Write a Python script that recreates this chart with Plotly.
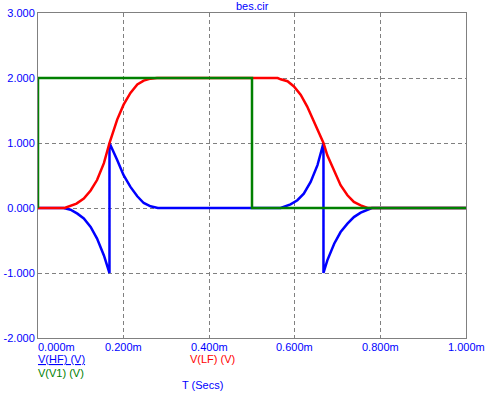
import plotly.graph_objects as go

# ---- data (time in ms, values in V) ----
t_hf = [0, 0.06, 0.076, 0.092, 0.107, 0.123, 0.138, 0.154, 0.167, 0.167, 0.185, 0.2, 0.216,
        0.232, 0.247, 0.263, 0.28, 0.567, 0.59, 0.606, 0.621, 0.637, 0.653, 0.664, 0.667,
        0.667, 0.676, 0.692, 0.707, 0.723, 0.738, 0.754, 0.77, 0.78, 1.0]
v_hf = [0, 0, -0.026, -0.087, -0.16, -0.29, -0.47, -0.73, -1.0, 1.0, 0.74, 0.505, 0.325,
        0.18, 0.077, 0.026, 0, 0, 0.057, 0.12, 0.22, 0.40, 0.66, 0.94, 1.0,
        -1.0, -0.805, -0.55, -0.37, -0.24, -0.14, -0.072, -0.02, 0, 0]

t_lf = [0, 0.062, 0.09, 0.107, 0.123, 0.138, 0.154, 0.167, 0.185, 0.2, 0.216, 0.232, 0.247,
        0.263, 0.278, 0.5, 0.56, 0.567, 0.583, 0.598, 0.614, 0.629, 0.645, 0.66, 0.667,
        0.676, 0.692, 0.707, 0.723, 0.738, 0.754, 0.77, 1.0]
v_lf = [0, 0, 0.067, 0.144, 0.27, 0.43, 0.69, 1.0, 1.36, 1.59, 1.77, 1.90, 1.96,
        1.99, 2.0, 2.0, 2.0, 1.98, 1.95, 1.87, 1.74, 1.56, 1.33, 1.10, 1.0,
        0.81, 0.56, 0.35, 0.196, 0.093, 0.041, 0.0, 0.0]

t_v1 = [0, 0, 0.5, 0.5, 1.0]
v_v1 = [0, 2, 2, 0, 0]

x_ticks = [0, 0.2, 0.4, 0.6, 0.8, 1.0]
x_labels = ["0.000m", "0.200m", "0.400m", "0.600m", "0.800m", "1.000m"]
y_ticks = [-2, -1, 0, 1, 2, 3]
y_labels = ["-2.000", "-1.000", "0.000", "1.000", "2.000", "3.000"]

TXT = "#0000FF"
FONT = "Liberation Sans, Arial, sans-serif"

fig = go.Figure()
fig.add_trace(go.Scatter(x=t_hf, y=v_hf, mode="lines", line=dict(color="#0000FF", width=2.5)))
fig.add_trace(go.Scatter(x=t_lf, y=v_lf, mode="lines", line=dict(color="#FF0000", width=2.5)))
fig.add_trace(go.Scatter(x=t_v1, y=v_v1, mode="lines", line=dict(color="#008000", width=2.5)))

fig.update_layout(
    width=486, height=396,
    margin=dict(l=38, r=20, t=13, b=58, autoexpand=False),
    paper_bgcolor="white", plot_bgcolor="white",
    showlegend=False,
    font=dict(family=FONT, size=11, color=TXT),
)
fig.update_xaxes(range=[0, 1], tickvals=x_ticks, showticklabels=False, automargin=False,
                 showgrid=True, gridcolor="#808080", griddash="4px,3px", gridwidth=1,
                 showline=True, linecolor="#808080", linewidth=1, mirror=True,
                 zeroline=False, ticks="")
fig.update_yaxes(range=[-2, 3], tickvals=y_ticks, ticktext=y_labels, automargin=False,
                 showgrid=True, gridcolor="#808080", griddash="4px,3px", gridwidth=1,
                 showline=True, linecolor="#808080", linewidth=1, mirror=True,
                 zeroline=False, ticks="", tickfont=dict(color=TXT, size=11))

for xv, lab in zip(x_ticks, x_labels):
    first = xv == x_ticks[0]
    fig.add_annotation(x=xv, y=0, xref="x", yref="paper", text=lab, showarrow=False,
                       xanchor="left" if first else "center", xshift=-2 if first else 0,
                       yanchor="middle", yshift=-9,
                       font=dict(color=TXT, size=11, family=FONT))

fig.add_annotation(x=0.5, y=1, xref="paper", yref="paper", text="bes.cir", showarrow=False,
                   xanchor="center", yanchor="middle", yshift=7,
                   font=dict(color=TXT, size=11, family=FONT))
fig.add_annotation(x=0, y=0, xref="paper", yref="paper", text="V(HF) (V)", showarrow=False,
                   xanchor="left", yanchor="middle", yshift=-21, xshift=-2,
                   font=dict(color="#0000FF", size=11, family=FONT, lineposition="under"))
fig.add_annotation(x=0.355, y=0, xref="paper", yref="paper", text="V(LF) (V)", showarrow=False,
                   xanchor="left", yanchor="middle", yshift=-21, xshift=-2,
                   font=dict(color="#FF0000", size=11, family=FONT))
fig.add_annotation(x=0, y=0, xref="paper", yref="paper", text="V(V1) (V)", showarrow=False,
                   xanchor="left", yanchor="middle", yshift=-35, xshift=-2,
                   font=dict(color="#008000", size=11, family=FONT))
fig.add_annotation(x=0.336, y=0, xref="paper", yref="paper", text="T (Secs)", showarrow=False,
                   xanchor="left", yanchor="middle", yshift=-47, xshift=-2,
                   font=dict(color=TXT, size=11, family=FONT))

fig.write_html("out.html", config={"displayModeBar": False},
               post_script="document.body.style.margin='0';")
